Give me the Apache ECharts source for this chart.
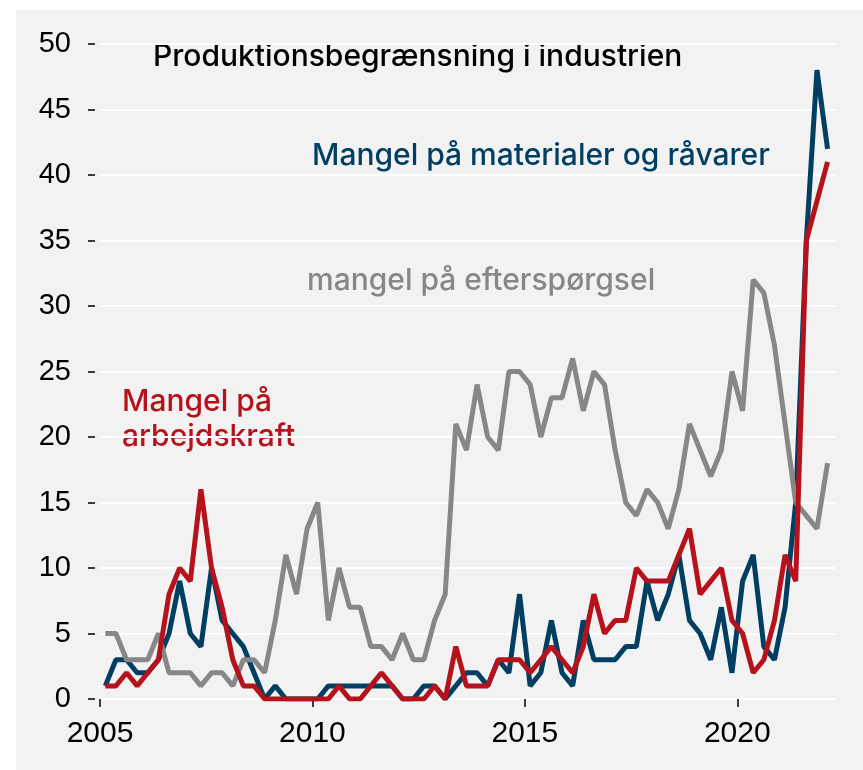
<!DOCTYPE html>
<html>
<head>
<meta charset="utf-8">
<script src="https://cdn.jsdelivr.net/npm/echarts@6/dist/echarts.min.js"></script>
<style>
  html, body { margin: 0; padding: 0; background: #fff; }
  #bg { position: absolute; left: 16px; top: 10px; width: 847px; height: 760px; background: #f2f2f2; }
  #chart { position: absolute; left: 0; top: 0; width: 863px; height: 770px; }
</style>
</head>
<body>
<div id="bg"></div>
<div id="chart"></div>
<script>
  // kvartalsdata, første punkt = 2005K1
  const firstYear = 2005;
  const materialer = [1, 3, 3, 2, 2, 3, 5, 9, 5, 4, 10, 6, 5, 4, 2, 0, 1, 0, 0, 0,
    0, 1, 1, 1, 1, 1, 1, 1, 0, 0, 1, 1, 0, 1, 2, 2, 1, 3, 2, 8,
    1, 2, 6, 2, 1, 6, 3, 3, 3, 4, 4, 9, 6, 8, 11, 6, 5, 3, 7, 2,
    9, 11, 4, 3, 7, 15, 35, 48, 42];
  const arbejdskraft = [1, 1, 2, 1, 2, 3, 8, 10, 9, 16, 10, 7, 3, 1, 1, 0, 0, 0, 0, 0,
    0, 0, 1, 0, 0, 1, 2, 1, 0, 0, 0, 1, 0, 4, 1, 1, 1, 3, 3, 3,
    2, 3, 4, 3, 2, 4, 8, 5, 6, 6, 10, 9, 9, 9, 11, 13, 8, 9, 10, 6,
    5, 2, 3, 6, 11, 9, 35, 38, 41];
  const efterspoergsel = [5, 5, 3, 3, 3, 5, 2, 2, 2, 1, 2, 2, 1, 3, 3, 2, 6, 11, 8, 13,
    15, 6, 10, 7, 7, 4, 4, 3, 5, 3, 3, 6, 8, 21, 19, 24, 20, 19, 25, 25,
    24, 20, 23, 23, 26, 22, 25, 24, 19, 15, 14, 16, 15, 13, 16, 21, 19, 17, 19, 25,
    22, 32, 31, 27, 21, 15, 14, 13, 18];
  const yearTicks = [2005, 2010, 2015, 2020];

  const blue = '#003f62';
  const red = '#b5121b';
  const grey = '#878787';
  const labelFont = '500 30px Inter';

  function toPoints(values) {
    return values.map((v, i) => [firstYear + (i + 0.5) / 4, v]);
  }

  const myChart = echarts.init(document.getElementById('chart'));
  myChart.setOption({
    backgroundColor: 'transparent',
    animation: false,
    grid: { left: 100, right: 28, top: 44, bottom: 71 },
    xAxis: {
      type: 'value',
      min: 2005,
      max: 2022.3,
      interval: 5,
      offset: 6,
      axisLine: { show: false },
      axisTick: { show: true, length: 8, customValues: yearTicks, lineStyle: { color: '#000', width: 1.5 } },
      axisLabel: { customValues: yearTicks, color: '#000', fontSize: 30, fontFamily: 'Liberation Sans', margin: 14,
        formatter: (v) => String(v) },
      splitLine: { show: false }
    },
    yAxis: {
      type: 'value',
      min: 0,
      max: 50,
      interval: 5,
      offset: 5,
      axisLine: { show: false },
      axisTick: { show: true, length: 7, lineStyle: { color: '#000', width: 1.5 } },
      axisLabel: { color: '#000', fontSize: 29, fontFamily: 'Liberation Sans', margin: 24 },
      splitLine: { show: true, lineStyle: { color: '#fff', width: 2 } }
    },
    graphic: [
      { type: 'text', left: 153, top: 42, style: { text: 'Produktionsbegrænsning i industrien', fill: '#000', font: labelFont } },
      { type: 'text', left: 312, top: 141, style: { text: 'Mangel på materialer og råvarer', fill: blue, font: labelFont } },
      { type: 'text', left: 307, top: 266, style: { text: 'mangel på efterspørgsel', fill: grey, font: labelFont } },
      { type: 'text', left: 122, top: 384, style: { text: 'Mangel på\narbejdskraft', fill: red, font: labelFont, lineHeight: 35 } }
    ],
    series: [
      { name: 'materialer', type: 'line', data: toPoints(materialer), showSymbol: false, z: 2,
        lineStyle: { color: blue, width: 5 } },
      { name: 'efterspørgsel', type: 'line', data: toPoints(efterspoergsel), showSymbol: false, z: 3,
        lineStyle: { color: grey, width: 5 } },
      { name: 'arbejdskraft', type: 'line', data: toPoints(arbejdskraft), showSymbol: false, z: 4,
        lineStyle: { color: red, width: 5 } }
    ]
  });
</script>
</body>
</html>
